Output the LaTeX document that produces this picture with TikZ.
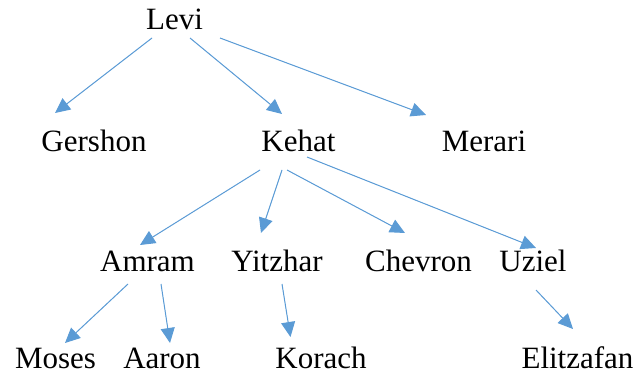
\documentclass[tikz,border=0pt]{standalone}
\usepackage{fontspec}
\setmainfont{Liberation Serif}
\usetikzlibrary{arrows.meta}
\definecolor{arrowblue}{HTML}{5B9BD5}
\tikzset{
  person/.style={anchor=base, inner sep=0pt, font=\fontsize{31}{37}\selectfont},
  link/.style={draw=arrowblue, line width=1pt, -{Triangle[length=15pt,width=14pt]}, fill=arrowblue}
}
\begin{document}
\begin{tikzpicture}[x=1pt,y=-1pt]
\useasboundingbox (0,0) rectangle (634,374);
% names
\node[person] (levi) at (174.5,29.5) {Levi};
\node[person] (gershon) at (94,152) {Gershon};
\node[person] (kehat) at (298.5,152) {Kehat};
\node[person] (merari) at (484,152) {Merari};
\node[person] (amram) at (147.5,271) {Amram};
\node[person] (yitzhar) at (277,271) {Yitzhar};
\node[person] (chevron) at (418.5,271) {Chevron};
\node[person] (uziel) at (533,271) {Uziel};
\node[person] (moses) at (55.5,368.5) {Moses};
\node[person] (aaron) at (162,368.5) {Aaron};
\node[person] (korach) at (321,368.5) {Korach};
\node[person] (elitzafan) at (577.5,368.5) {Elitzafan};
% connector ends
\coordinate (lg1) at (152,38);  \coordinate (lg2) at (55,113);
\coordinate (lk1) at (190,38);  \coordinate (lk2) at (282,114);
\coordinate (lm1) at (220,38);  \coordinate (lm2) at (426,115);
\coordinate (ka1) at (260,170); \coordinate (ka2) at (140,245);
\coordinate (ky1) at (282,170); \coordinate (ky2) at (261,233);
\coordinate (kc1) at (287,170); \coordinate (kc2) at (405,233);
\coordinate (ku1) at (307,157); \coordinate (ku2) at (536,248);
\coordinate (am1) at (128,284); \coordinate (am2) at (65,343);
\coordinate (aa1) at (161,284); \coordinate (aa2) at (170,343);
\coordinate (yk1) at (282,284); \coordinate (yk2) at (290.5,337);
\coordinate (ue1) at (536,290); \coordinate (ue2) at (573,329);
% connectors
\draw[link] (lg1) -- (lg2);
\draw[link] (lk1) -- (lk2);
\draw[link] (lm1) -- (lm2);
\draw[link] (ka1) -- (ka2);
\draw[link] (ky1) -- (ky2);
\draw[link] (kc1) -- (kc2);
\draw[link] (ku1) -- (ku2);
\draw[link] (am1) -- (am2);
\draw[link] (aa1) -- (aa2);
\draw[link] (yk1) -- (yk2);
\draw[link] (ue1) -- (ue2);
\end{tikzpicture}
\end{document}
